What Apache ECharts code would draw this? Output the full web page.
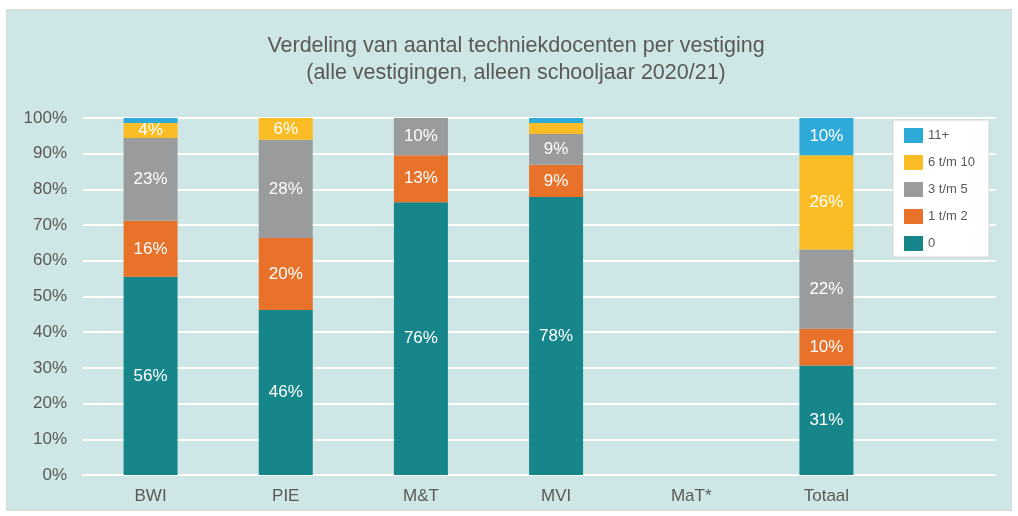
<!DOCTYPE html>
<html>
<head>
<meta charset="utf-8">
<script src="https://cdn.jsdelivr.net/npm/echarts@6/dist/echarts.min.js"></script>
<style>
  html, body { margin: 0; padding: 0; background: #fff; }
  #frame { position: absolute; left: 6px; top: 9px; width: 1004px; height: 500px; background: #cfe6e6; border: 1px solid #d9d9d9; }
  #chart { position: absolute; left: 0; top: 0; width: 1018px; height: 516px; }
</style>
</head>
<body>
<div id="frame"></div>
<div id="chart"></div>
<script>
// data
const categories = ['BWI', 'PIE', 'M&T', 'MVI', 'MaT*', 'Totaal']
const seriesNames = ['0', '1 t/m 2', '3 t/m 5', '6 t/m 10', '11+']
const val0 = [55.5, 46.2, 76.4, 77.9, null, 30.7]
const val1t2 = [15.7, 20.2, 13.2, 9.0, null, 10.3]
const val3t5 = [23.2, 27.5, 10.4, 8.6, null, 22.2]
const val6t10 = [4.2, 6.1, 0, 3.1, null, 26.4]
const val11 = [1.4, 0, 0, 1.4, null, 10.4]
const yTicks = [0, 10, 20, 30, 40, 50, 60, 70, 80, 90, 100]

const colors = ['#17868a', '#e8722a', '#999b9c', '#fbbd25', '#2eaad8']
const values = [val0, val1t2, val3t5, val6t10, val11]
const font = 'Liberation Sans, Arial, sans-serif'

const chart = echarts.init(document.getElementById('chart'))

// stacked bars, labels only where the segment is big enough
const series = seriesNames.map((name, i) => ({
  name,
  type: 'bar',
  stack: 'total',
  xAxisIndex: 1,
  yAxisIndex: 1,
  barWidth: 54,
  data: values[i],
  itemStyle: { color: colors[i] },
  label: {
    show: true,
    position: 'inside',
    color: '#fff',
    fontFamily: font,
    fontSize: 17,
    formatter: p => (p.value == null || p.value < 3.5) ? '' : Math.round(p.value) + '%'
  }
}))

chart.setOption({
  backgroundColor: 'transparent',
  animation: false,
  title: {
    text: 'Verdeling van aantal techniekdocenten per vestiging\n(alle vestigingen, alleen schooljaar 2020/21)',
    left: 511,
    top: 28,
    textAlign: 'center',
    textStyle: { fontFamily: font, fontSize: 21.5, fontWeight: 'normal', color: '#595959', lineHeight: 27 }
  },
  legend: {
    data: ['11+', '6 t/m 10', '3 t/m 5', '1 t/m 2', '0'],
    orient: 'vertical',
    left: 893,
    top: 120,
    padding: [8, 14, 6, 11],
    itemWidth: 19,
    itemHeight: 15,
    itemGap: 12,
    backgroundColor: '#fff',
    borderColor: '#d4d4d4',
    borderWidth: 1,
    icon: 'rect',
    textStyle: { fontFamily: font, fontSize: 13, color: '#595959' }
  },
  // grid 0: gridlines reach further right than the category axis (grid 1)
  grid: [
    { left: 83, right: 22, top: 118, bottom: 41 },
    { left: 83, right: 124, top: 118, bottom: 41 }
  ],
  xAxis: [
    { type: 'value', gridIndex: 0, show: false, min: 0, max: 1 },
    {
      type: 'category', gridIndex: 1, data: categories,
      axisLine: { lineStyle: { color: '#fff', width: 2 } },
      axisTick: { show: false },
      axisLabel: { fontFamily: font, fontSize: 17, color: '#595959', margin: 13 }
    }
  ],
  yAxis: [
    {
      type: 'value', gridIndex: 0, min: 0, max: 100, interval: 10,
      axisLine: { show: false }, axisTick: { show: false },
      axisLabel: { fontFamily: font, fontSize: 17, color: '#595959', margin: 16, formatter: v => yTicks.includes(v) ? v + '%' : '' },
      splitLine: { lineStyle: { color: '#fff', width: 2 } }
    },
    { type: 'value', gridIndex: 1, min: 0, max: 100, show: false, splitLine: { show: false } }
  ],
  series
})
</script>
</body>
</html>
